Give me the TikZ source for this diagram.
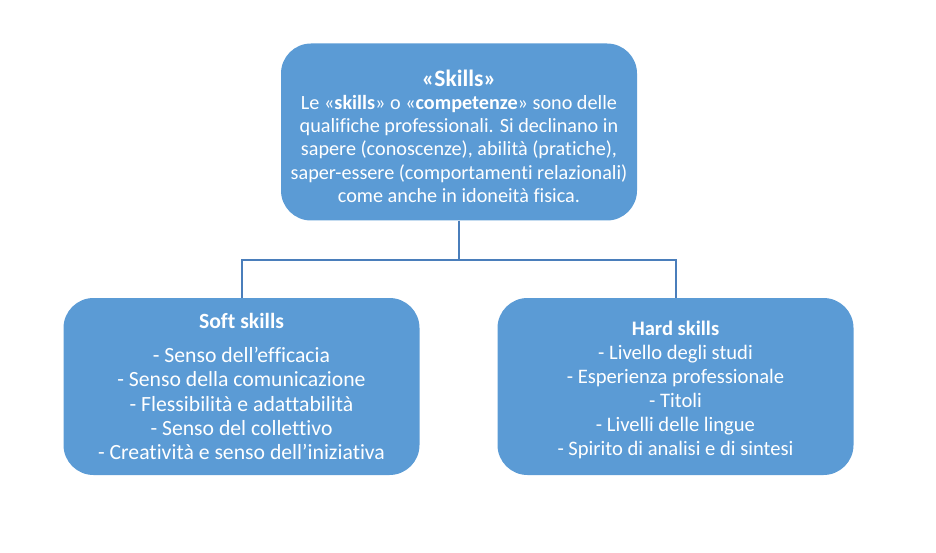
\documentclass[tikz,border=0pt]{standalone}
\usepackage{fontspec}
\setmainfont[Ligatures=NoCommon]{Carlito}
\definecolor{boxblue}{HTML}{5B9BD5}
\definecolor{lineblue}{HTML}{4A7EBB}
\tikzset{
  skillbox/.style={fill=boxblue, rounded corners=30pt, text=white, align=center,
    minimum width=356pt, minimum height=177pt, inner sep=0pt},
  connector/.style={draw=lineblue, line width=2pt}
}
\begin{document}
\begin{tikzpicture}[x=1pt,y=-1pt]
  \useasboundingbox (0,0) rectangle (936,553);
  \node[skillbox, font=\fontsize{20.2}{23.4}\selectfont] (skills) at (459,132)
    {\rule{0pt}{25pt}{\fontsize{23.5}{26}\selectfont\bfseries «Skills»}\\[-0.5pt]
     Le «\textbf{skills}» o «\textbf{competenze}» sono delle\\
     qualifiche professionali. Si declinano in\\
     sapere (conoscenze), abilità (pratiche),\\
     saper-essere (comportamenti relazionali)\\
     come anche in idoneità fisica.};
  \node[skillbox, font=\fontsize{21.7}{24.3}\selectfont] (soft) at (241.5,386.5)
    {\textbf{Soft skills}\\[10pt]
     - Senso dell’efficacia\\
     - Senso della comunicazione\\
     - Flessibilità e adattabilità\\
     - Senso del collettivo\\
     - Creatività e senso dell’iniziativa};
  \node[skillbox, font=\fontsize{20.6}{24}\selectfont] (hard) at (675.5,386.5)
    {\rule{0pt}{20.5pt}\textbf{Hard skills}\\
     - Livello degli studi\\
     - Esperienza professionale\\
     - Titoli\\
     - Livelli delle lingue\\
     - Spirito di analisi e di sintesi};
  \coordinate (split) at ([yshift=-39pt]skills.south);
  \draw[connector] (skills.south) -- (split);
  \draw[connector] (split) -| (soft.north);
  \draw[connector] (split) -| (hard.north);
\end{tikzpicture}
\end{document}
